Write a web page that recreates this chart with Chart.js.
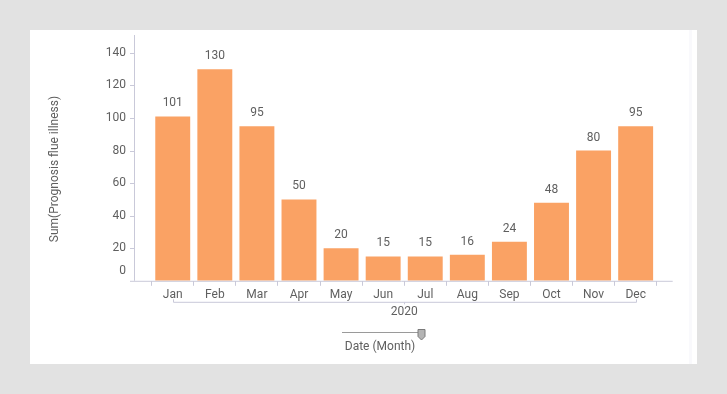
<!DOCTYPE html>
<html>
<head>
<meta charset="utf-8">
<script src="https://cdn.jsdelivr.net/npm/chart.js@4"></script>
<style>
  body { margin: 0; background: #e2e2e2; width: 727px; height: 394px; overflow: hidden; }
  #panel { position: absolute; left: 30px; top: 30px; width: 667px; height: 334px; background: #fff; }
  #strip { position: absolute; left: 659px; top: 0; width: 3px; height: 334px; background: #f9f9fc; }
  canvas { position: absolute; left: 0; top: 0; }
</style>
</head>
<body>
<div id="panel">
  <div id="strip"></div>
  <canvas id="chart" width="667" height="334"></canvas>
</div>
<script>
// chart data
const months = ['Jan', 'Feb', 'Mar', 'Apr', 'May', 'Jun', 'Jul', 'Aug', 'Sep', 'Oct', 'Nov', 'Dec'];
const prognosis = [101, 130, 95, 50, 20, 15, 15, 16, 24, 48, 80, 95];
const yTicks = [0, 20, 40, 60, 80, 100, 120, 140];
const yearLabel = '2020';
const yTitle = 'Sum(Prognosis flue illness)';
const xTitle = 'Date (Month)';

const textColor = '#5f5f5f';
const axisColor = '#c9c9d9';
const font = '12px Roboto';

// axes, value labels, year bracket and slider
const decorations = {
    id: 'decorations',
    afterDraw(chart) {
        const c = chart.ctx;
        const area = chart.chartArea;
        const y = chart.scales.y;
        const x = chart.scales.x;
        const axisX = area.left - 17.7;

        c.save();
        c.strokeStyle = axisColor;
        c.lineWidth = 1;

        // y axis line
        c.beginPath();
        c.moveTo(axisX + 0.5, area.top);
        c.lineTo(axisX + 0.5, area.bottom);
        c.stroke();

        // x axis line
        c.beginPath();
        c.moveTo(axisX - 4, area.bottom + 0.5);
        c.lineTo(area.right + 16, area.bottom + 0.5);
        c.stroke();

        // y ticks
        c.font = font;
        c.fillStyle = textColor;
        c.textAlign = 'right';
        c.textBaseline = 'middle';
        yTicks.forEach(v => {
            let py = y.getPixelForValue(v);
            if (v === 0) {
                py -= 10;
            } else {
                c.beginPath();
                c.moveTo(axisX - 4, Math.round(py) + 0.5);
                c.lineTo(axisX, Math.round(py) + 0.5);
                c.stroke();
            }
            c.fillText(String(v), axisX - 8, py);
        });

        // y title
        c.save();
        c.translate(25, 139);
        c.rotate(-Math.PI / 2);
        c.textAlign = 'center';
        c.fillText(yTitle, 0, 0);
        c.restore();

        // value labels
        c.textAlign = 'center';
        const meta = chart.getDatasetMeta(0);
        meta.data.forEach((bar, i) => {
            c.fillText(String(prognosis[i]), bar.x, bar.y - 13);
        });

        // year bracket
        const x0 = x.getPixelForValue(0);
        const x1 = x.getPixelForValue(months.length - 1);
        const by = area.bottom + 21.5;
        c.beginPath();
        c.moveTo(Math.round(x0) + 0.5, by - 3);
        c.lineTo(Math.round(x0) + 0.5, by);
        c.lineTo(Math.round(x1) + 0.5, by);
        c.lineTo(Math.round(x1) + 0.5, by - 3);
        const mid = Math.round((x0 + x1) / 2) + 0.5;
        c.moveTo(mid, by);
        c.lineTo(mid, by + 2);
        c.stroke();
        c.fillText(yearLabel, (x0 + x1) / 2, area.bottom + 31.5);

        // slider
        c.strokeStyle = '#9a9a9a';
        c.beginPath();
        c.moveTo(312, 302.5);
        c.lineTo(390, 302.5);
        c.stroke();
        c.fillStyle = '#b4b4b4';
        c.strokeStyle = '#7a7a7a';
        c.beginPath();
        c.moveTo(388, 299.5);
        c.lineTo(395, 299.5);
        c.lineTo(395, 306.5);
        c.lineTo(391.5, 310);
        c.lineTo(388, 306.5);
        c.closePath();
        c.fill();
        c.stroke();

        c.fillStyle = textColor;
        c.fillText(xTitle, 350, 317);
        c.restore();
    }
};

const ctx = document.getElementById('chart').getContext('2d');
const chart = new Chart(ctx, {
    type: 'bar',
    data: {
        labels: months,
        datasets: [{
            data: prognosis,
            backgroundColor: '#faa264',
            borderWidth: 0,
            categoryPercentage: 1,
            barPercentage: 0.83
        }]
    },
    options: {
        responsive: false,
        animation: false,
        events: [],
        layout: { padding: { left: 121.7, right: 40.3, top: 5, bottom: 0 } },
        plugins: {
            legend: { display: false },
            tooltip: { enabled: false }
        },
        scales: {
            x: {
                afterFit: s => { s.height = 83.2; },
                border: { display: false },
                grid: { drawOnChartArea: false, tickLength: 5, color: axisColor, offset: true },
                ticks: { color: textColor, font: { family: 'Roboto', size: 12 }, padding: 2, maxRotation: 0 }
            },
            y: {
                display: false,
                min: 0,
                max: 151
            }
        }
    },
    plugins: [decorations]
});
</script>
</body>
</html>
